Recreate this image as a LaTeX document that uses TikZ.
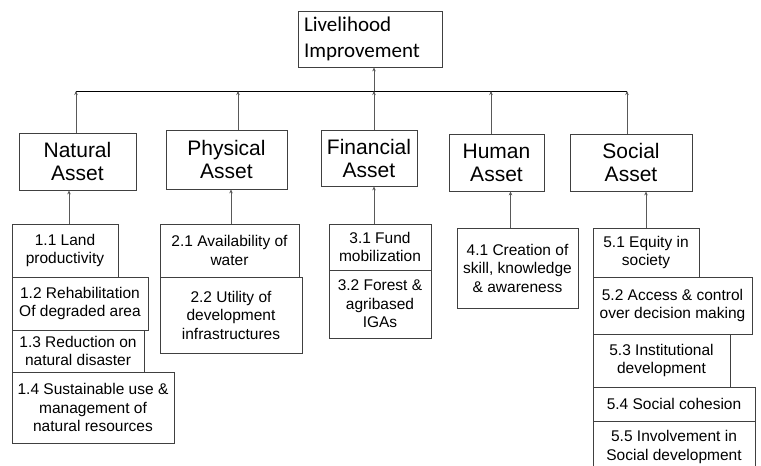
\documentclass[tikz,border=0pt]{standalone}
\usepackage{fontspec}
\setmainfont{Liberation Sans}
\newfontfamily\calib{Carlito}
\usetikzlibrary{arrows.meta}
\begin{document}
\begin{tikzpicture}[x=1pt,y=-1pt,
  boxline/.style={draw=black!75, line width=0.8pt},
  topbox/.style={boxline, inner sep=0pt, align=left, font=\calib\fontsize{21}{26}\selectfont},
  assetbox/.style={boxline, inner sep=0pt, align=center, font=\fontsize{21}{23}\selectfont},
  subbox/.style={boxline, inner sep=0pt, align=center, font=\fontsize{15.5}{18.5}\selectfont},
  conn/.style={draw=black!65, line width=0.8pt, -{Stealth[length=4pt,width=3.5pt]}},
  bar/.style={draw=black, line width=0.9pt}]
\useasboundingbox (0,0) rectangle (761,466);
\clip (0,0) rectangle (761,466);
% top
\node[topbox, minimum width=144, minimum height=56, text width=132] (top) at (370,39) {Livelihood\\Improvement};
% assets
\node[assetbox, minimum width=117, minimum height=57] (nat) at (77.5,161.5) {Natural\\Asset};
\node[assetbox, minimum width=121, minimum height=59] (phy) at (226.5,159.5) {Physical\\Asset};
\node[assetbox, minimum width=96, minimum height=56] (fin) at (369,158) {Financial\\Asset};
\node[assetbox, minimum width=95, minimum height=57] (hum) at (496.5,162.5) {Human\\Asset};
\node[assetbox, minimum width=122, minimum height=57] (soc) at (631,162.5) {Social\\Asset};
% horizontal bar coordinates
\coordinate (h1) at (76,91);
\coordinate (h2) at (238,91);
\coordinate (h3) at (374,91);
\coordinate (h4) at (491,91);
\coordinate (h5) at (627,91);
\draw[bar] (h1) -- (h5);
\draw[conn] (h3) -- (h3 |- top.south);
\draw[conn] (h1 |- nat.north) -- (h1);
\draw[conn] (h2 |- phy.north) -- (h2);
\draw[conn] (h3 |- fin.north) -- (h3);
\draw[conn] (h4 |- hum.north) -- (h4);
\draw[conn] (h5 |- soc.north) -- (h5);
% sub boxes natural
\node[subbox, minimum width=106, minimum height=53] (n11) at (65,250.5) {1.1 Land\\productivity};
\node[subbox, minimum width=136, minimum height=53] (n12) at (80,303.5) {1.2 Rehabilitation\\Of degraded area};
\node[subbox, minimum width=132, minimum height=42] (n13) at (78,351) {1.3 Reduction on\\natural disaster};
\node[subbox, minimum width=162, minimum height=71] (n14) at (93,407.5) {1.4 Sustainable use \&\\management of\\natural resources};
% physical
\node[subbox, minimum width=139, minimum height=53] (p21) at (229.5,250.5) {2.1 Availability of\\water};
\node[subbox, minimum width=142, minimum height=76] (p22) at (231,315) {2.2 Utility of\\development\\infrastructures};
% financial
\node[subbox, minimum width=102, minimum height=46] (f31) at (380,247) {3.1 Fund\\mobilization};
\node[subbox, minimum width=102, minimum height=68] (f32) at (380,304) {3.2 Forest \&\\agribased\\IGAs};
% human
\node[subbox, minimum width=121, minimum height=80] (h41) at (517.5,268) {4.1 Creation of\\skill, knowledge\\\& awareness};
% social
\node[subbox, minimum width=106, minimum height=49] (s51) at (646,252.5) {5.1 Equity in\\society};
\node[subbox, minimum width=159, minimum height=57] (s52) at (672.5,305.5) {5.2 Access \& control\\over decision making};
\node[subbox, minimum width=137, minimum height=53] (s53) at (661.5,360.5) {5.3 Institutional\\development};
\node[subbox, minimum width=162, minimum height=34] (s54) at (674,404) {5.4 Social cohesion};
\node[subbox, minimum width=162, minimum height=52] (s55) at (674,447) {5.5 Involvement in\\Social development};
% sub to asset connectors
\coordinate (c1) at (69,0);
\coordinate (c2) at (231,0);
\coordinate (c3) at (374,0);
\coordinate (c4) at (510.5,0);
\coordinate (c5) at (646,0);
\draw[conn] (c1 |- n11.north) -- (c1 |- nat.south);
\draw[conn] (c2 |- p21.north) -- (c2 |- phy.south);
\draw[conn] (c3 |- f31.north) -- (c3 |- fin.south);
\draw[conn] (c4 |- h41.north) -- (c4 |- hum.south);
\draw[conn] (c5 |- s51.north) -- (c5 |- soc.south);
\end{tikzpicture}
\end{document}
